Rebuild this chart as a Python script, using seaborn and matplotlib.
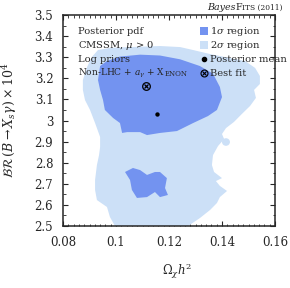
import numpy as np
import matplotlib
matplotlib.use('Agg')
import matplotlib.pyplot as plt
import seaborn as sns
from matplotlib.patches import Ellipse
from matplotlib.ticker import MultipleLocator

# 2 sigma region outline (Omega h^2, BR x 1e4)
sig2_x = [0.0932, 0.0977, 0.1053, 0.1166, 0.1242, 0.1291, 0.1355, 0.1430, 0.1487, 0.1525,
          0.1543, 0.1543, 0.1521, 0.1528, 0.1506, 0.1475, 0.1445, 0.1415, 0.1400, 0.1408,
          0.1385, 0.1366, 0.1362, 0.1370, 0.1400, 0.1377, 0.1392, 0.1419, 0.1392, 0.1381,
          0.1355, 0.1317, 0.1272, 0.0996, 0.0977, 0.0966, 0.0928, 0.0921, 0.0921, 0.0928,
          0.0936, 0.0940, 0.0940, 0.0921, 0.0902, 0.0883, 0.0875, 0.0875, 0.0891, 0.0909]
sig2_y = [3.334, 3.344, 3.348, 3.353, 3.348, 3.334, 3.315, 3.296, 3.282, 3.249,
          3.211, 3.173, 3.145, 3.107, 3.069, 3.031, 2.993, 2.964, 2.936, 2.912,
          2.879, 2.836, 2.789, 2.756, 2.727, 2.713, 2.690, 2.666, 2.637, 2.609,
          2.576, 2.538, 2.500, 2.500, 2.543, 2.590, 2.623, 2.671, 2.718, 2.789,
          2.836, 2.874, 2.922, 2.988, 3.050, 3.097, 3.145, 3.192, 3.254, 3.301]
# small isolated 2 sigma island
island_xy = (0.1415, 2.898)

# 1 sigma regions
sig1a_x = [0.0940, 0.0966, 0.1015, 0.1091, 0.1166, 0.1242, 0.1317, 0.1366, 0.1392, 0.1400,
           0.1381, 0.1347, 0.1291, 0.1230, 0.1166, 0.1117, 0.1091, 0.1042, 0.1023, 0.1015,
           0.0989, 0.0958, 0.0951, 0.0940, 0.0932]
sig1a_y = [3.258, 3.282, 3.303, 3.312, 3.308, 3.290, 3.258, 3.222, 3.159, 3.111,
           3.050, 3.021, 2.988, 2.950, 2.941, 2.931, 2.945, 2.945, 2.941, 2.988,
           3.012, 3.050, 3.097, 3.145, 3.192]
sig1b_x = [0.1034, 0.1064, 0.1091, 0.1117, 0.1147, 0.1166, 0.1192, 0.1185, 0.1196, 0.1166,
           0.1147, 0.1117, 0.1079, 0.1060, 0.1053]
sig1b_y = [2.756, 2.775, 2.765, 2.742, 2.756, 2.756, 2.727, 2.680, 2.647, 2.637,
           2.661, 2.637, 2.633, 2.671, 2.718]

best_fit = (0.1113, 3.163)
post_mean = (0.1155, 3.031)

xticks = [0.08, 0.10, 0.12, 0.14, 0.16]
xtick_labels = ['0.08', '0.1', '0.12', '0.14', '0.16']
yticks = [2.5, 2.6, 2.7, 2.8, 2.9, 3.0, 3.1, 3.2, 3.3, 3.4, 3.5]
ytick_labels = ['2.5', '2.6', '2.7', '2.8', '2.9', '3', '3.1', '3.2', '3.3', '3.4', '3.5']

c1 = '#7393f0'
c2 = '#cce0f7'

sns.set_style('ticks')
plt.rcParams['font.family'] = ['DejaVu Serif']
plt.rcParams['mathtext.fontset'] = 'dejavuserif'

W, H = 290, 288
fig = plt.figure(figsize=(2.9, 2.88), dpi=100)
ax = fig.add_axes([63 / W, 1 - 226 / H, 212 / W, 211 / H])
renderer = fig.canvas.get_renderer()


def pieces(x, y, parts):
    # write text pieces one after another on a common baseline (pixel coords from top-left)
    for txt, size, style in parts:
        t = fig.text(x / W, 1 - y / H, txt, fontsize=size, style=style, va='baseline')
        x += t.get_window_extent(renderer=renderer).width


ax.fill(sig2_x, sig2_y, color=c2, lw=0)
ax.add_patch(Ellipse(island_xy, 0.003, 0.036, color=c2, lw=0))
ax.fill(sig1a_x, sig1a_y, color=c1, lw=0)
ax.fill(sig1b_x, sig1b_y, color=c1, lw=0)

sns.scatterplot(x=[post_mean[0]], y=[post_mean[1]], ax=ax, color='black', s=10, linewidth=0)
ax.plot(*best_fit, marker='o', ms=5.5, mfc='none', mec='black', mew=0.9)
ax.plot(*best_fit, marker='x', ms=3.5, mec='black', mew=0.9)

ax.set_xlim(0.08, 0.16)
ax.set_ylim(2.5, 3.5)
ax.set_xticks(xticks)
ax.set_xticklabels(xtick_labels, fontsize=8.5)
ax.set_yticks(yticks)
ax.set_yticklabels(ytick_labels, fontsize=8.5)
ax.xaxis.set_minor_locator(MultipleLocator(0.002))
ax.yaxis.set_minor_locator(MultipleLocator(0.05))
ax.tick_params(which='both', direction='in', top=True, right=True)
ax.tick_params(which='major', length=3.5, width=0.8, pad=7)
ax.tick_params(which='minor', length=1.8, width=0.6)
for sp in ax.spines.values():
    sp.set_linewidth(1.1)
    sp.set_visible(True)

ax.set_xlabel(r'$\Omega_\chi h^2$', fontsize=8.5, labelpad=9)
ax.xaxis.set_label_coords(0.54, -0.165)
ax.set_ylabel(r'$\mathcal{BR}\,(B \rightarrow X_s\gamma) \times 10^4$', fontsize=9, labelpad=11)

fs = 7.1
base = [34, 48, 62, 76]
pieces(78, base[0], [('Posterior pdf', fs, 'normal')])
pieces(78, base[1], [(r'CMSSM, $\mu$ > 0', fs, 'normal')])
pieces(78, base[2], [('Log priors', fs, 'normal')])
pieces(78, base[3], [(r'Non-LHC + $a_\gamma$ + X', 6.5, 'normal'), ('ENON', 5.0, 'normal')])

# legend
for col, yy, lab in [(c1, 31, r'1$\sigma$ region'), (c2, 45, r'2$\sigma$ region')]:
    fig.patches.append(plt.Rectangle((200 / W, 1 - (yy + 4) / H), 8 / W, 8 / H,
                                     transform=fig.transFigure, color=col, lw=0))
    pieces(210, yy + 3, [(lab, fs, 'normal')])
fig.lines.append(plt.Line2D([204 / W], [1 - 59 / H], marker='o', ms=3, color='black',
                            transform=fig.transFigure))
pieces(210, 62, [('Posterior mean', fs, 'normal')])
fig.lines.append(plt.Line2D([204 / W], [1 - 73 / H], marker='o', ms=5, mfc='none', mec='black',
                            mew=0.8, transform=fig.transFigure))
fig.lines.append(plt.Line2D([204 / W], [1 - 73 / H], marker='x', ms=3.2, mec='black',
                            mew=0.8, transform=fig.transFigure))
pieces(210, 76, [('Best fit', fs, 'normal')])

# header
pieces(207, 10, [('Bayes', 6.8, 'italic'), ('F', 6.8, 'normal'), ('ITS (2011)', 5.4, 'normal')])

fig.savefig('out.png', dpi=100)
